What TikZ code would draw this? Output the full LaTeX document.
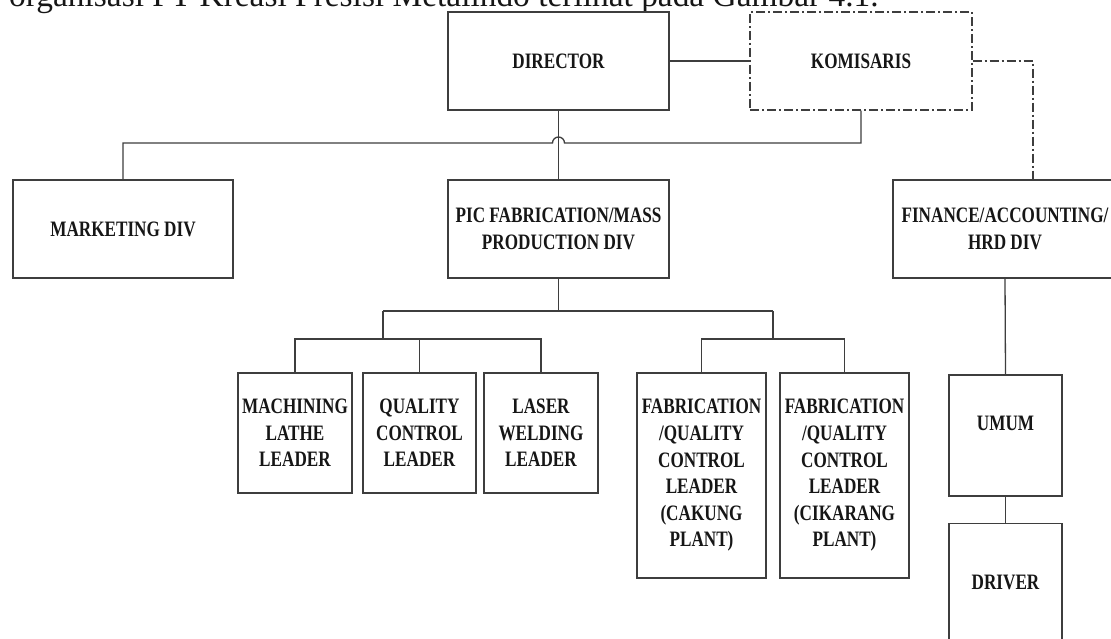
\documentclass[tikz,border=0pt]{standalone}
\usepackage{fontspec}
\setmainfont{Liberation Serif}
\newfontfamily\boxfont{Liberation Serif}[FakeStretch=0.78]
\definecolor{linegray}{RGB}{62,62,62}
\definecolor{inkblack}{RGB}{22,22,22}

\begin{document}
\begin{tikzpicture}[x=1pt, y=-1pt,
    boxtext/.style={text=inkblack,
      font=\boxfont\bfseries\fontsize{22}{26.6}\selectfont},
    unit/.style={boxtext, draw=linegray, line width=1.4pt, fill=white,
      inner sep=0pt, align=center},
    link/.style={draw=linegray, line width=1.3pt},
    advisory/.style={draw=linegray, line width=1.3pt,
      dash pattern=on 9pt off 3pt on 2pt off 3pt},
  ]
  \useasboundingbox (0,0) rectangle (1111,639);

  % lead-in sentence, cut by the top edge
  \node[anchor=base west, inner sep=0pt, text=inkblack,
        font=\fontsize{33.4}{36}\selectfont] (caption) at (9,7)
    {organisasi PT Kreasi Presisi Metalindo terlihat pada Gambar 4.1.};

  % top level
  \node[unit, minimum width=221pt, minimum height=98pt] (dir) at (558.5,61) {DIRECTOR};
  \node[boxtext, advisory, inner sep=0pt, fill=white, align=center,
        minimum width=222pt, minimum height=98pt] (kom) at (861,61) {KOMISARIS};

  % divisions
  \node[unit, minimum width=220pt, minimum height=98pt] (mkt) at (123,229) {MARKETING DIV};
  \node[unit, minimum width=221pt, minimum height=98pt] (pic) at (558.5,229)
    {PIC FABRICATION/MASS\\PRODUCTION DIV};
  \node[unit, minimum width=224pt, minimum height=98pt] (fin) at (1005,229)
    {FINANCE/ACCOUNTING/\\HRD DIV};

  % leaders under production
  \node[unit, minimum width=114pt, minimum height=120pt] (mach) at (295,433)
    {MACHINING\\LATHE\\LEADER};
  \node[unit, minimum width=113pt, minimum height=120pt] (qual) at (419.5,433)
    {QUALITY\\CONTROL\\LEADER};
  \node[unit, minimum width=114pt, minimum height=120pt] (laser) at (541,433)
    {LASER\\WELDING\\LEADER};
  \node[unit, minimum width=129pt, minimum height=205pt] (cak) at (701.5,475.5)
    {FABRICATION\\/QUALITY\\CONTROL\\LEADER\\(CAKUNG\\PLANT)};
  \node[unit, minimum width=129pt, minimum height=205pt] (cik) at (844.5,475.5)
    {FABRICATION\\/QUALITY\\CONTROL\\LEADER\\(CIKARANG\\PLANT)};

  % general affairs
  \node[unit, minimum width=113pt, minimum height=121pt] (umum) at (1005.5,435.5) {};
  \node[boxtext, inner sep=0pt] (umumlbl) at (umum.center |- 0,423) {UMUM};
  \node[unit, minimum width=113pt, minimum height=140pt, anchor=north] (drv) at (1005.5,523) {};
  \node[boxtext, inner sep=0pt] (drvlbl) at (drv.center |- 0,582) {DRIVER};

  % junction points
  \coordinate (hop) at (dir.south |- 0,143);
  \coordinate (split) at (pic.south |- 0,311);
  \coordinate (jL) at (383,311);
  \coordinate (jR) at (773,311);
  \coordinate (lb) at (383,339);
  \coordinate (rb) at (773,339);

  % director and board
  \draw[link] (dir.east) -- (kom.west);
  \draw[link] (mkt.north) |- ([xshift=-6pt]hop)
    arc[start angle=180, end angle=0, radius=6pt]
    -- (kom.south |- hop) -- (kom.south);
  \draw[link] (dir.south) -- (pic.north);
  \draw[advisory] (kom.east) -| ([xshift=28pt]fin.north);

  % production branches
  \draw[link] (pic.south) -- (split);
  \draw[link] (jL) -- (jR);
  \draw[link] (jL) -- (lb);
  \draw[link] (mach.north) -- (mach.north |- lb) -- (laser.north |- lb) -- (laser.north);
  \draw[link] (qual.north) -- (qual.north |- lb);
  \draw[link] (jR) -- (rb);
  \draw[link] (cak.north) -- (cak.north |- rb) -- (cik.north |- rb) -- (cik.north);

  % finance chain
  \draw[link] (fin.south) -- (umum.north);
  \draw[link] (umum.south) -- (drv.north);
\end{tikzpicture}
\end{document}
